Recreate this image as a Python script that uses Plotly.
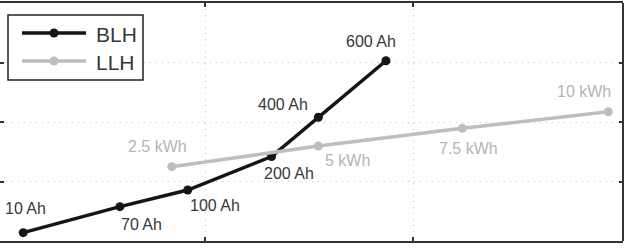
import plotly.graph_objects as go

# ---- data (axis units, no tick labels in original) ----
blh_x = [0.126, 0.591, 0.917, 1.320, 1.545, 1.870]
blh_y = [0.140, 0.577, 0.857, 1.420, 2.079, 3.030]
blh_labels = ["10 Ah", "70 Ah", "100 Ah", "200 Ah", "400 Ah", "600 Ah"]

llh_x = [0.840, 1.545, 2.237, 2.939]
llh_y = [1.249, 1.597, 1.894, 2.173]
llh_labels = ["2.5 kWh", "5 kWh", "7.5 kWh", "10 kWh"]

x_ticks = [1, 2]
y_ticks = [1, 2, 3]

# label offsets in pixels (dx, dy)
blh_offsets = [(2, 24), (22, -18), (27, -15), (17, -17), (-35, 13), (-15, 19)]
llh_offsets = [(-14, 20), (29, -15), (6, -20), (-24, 20)]

BLH_COLOR = "#151515"
LLH_COLOR = "#bebebe"
BLH_TEXT = "#383838"
LLH_TEXT = "#b5b5b5"
AXIS_COLOR = "#333333"
FONT = "Liberation Sans, Arial, sans-serif"

W, H = 630, 248
ML, MR, MT, MB = 0, 7, 3, 7
PW = W - ML - MR
PH = H - MT - MB

fig = go.Figure()
fig.add_trace(go.Scatter(x=blh_x, y=blh_y, mode="lines+markers", name="BLH",
                         line=dict(color=BLH_COLOR, width=3.5),
                         marker=dict(color=BLH_COLOR, size=9), hoverinfo="skip"))
fig.add_trace(go.Scatter(x=llh_x, y=llh_y, mode="lines+markers", name="LLH",
                         line=dict(color=LLH_COLOR, width=3.5),
                         marker=dict(color=LLH_COLOR, size=9), hoverinfo="skip"))

annotations = []
for x, y, t, (dx, dy) in zip(blh_x, blh_y, blh_labels, blh_offsets):
    annotations.append(dict(x=x, y=y, text=t, showarrow=False, xshift=dx, yshift=dy,
                            font=dict(family=FONT, size=16, color=BLH_TEXT)))
for x, y, t, (dx, dy) in zip(llh_x, llh_y, llh_labels, llh_offsets):
    annotations.append(dict(x=x, y=y, text=t, showarrow=False, xshift=dx, yshift=dy,
                            font=dict(family=FONT, size=16, color=LLH_TEXT)))

def px(xp):
    return (xp - ML) / PW

def py(yp):
    return (H - MB - yp) / PH

shapes = []
# right border line
shapes.append(dict(type="line", xref="paper", yref="paper", x0=1, x1=1, y0=0, y1=1,
                   line=dict(color=AXIS_COLOR, width=2)))
# manual legend
shapes.append(dict(type="rect", xref="paper", yref="paper",
                   x0=px(8), x1=px(143), y0=py(80), y1=py(15),
                   line=dict(color="#222222", width=1.5), fillcolor="white", layer="above"))
for yy, col, name in [(33, BLH_COLOR, "BLH"), (61, LLH_COLOR, "LLH")]:
    shapes.append(dict(type="line", xref="paper", yref="paper", x0=px(22), x1=px(86),
                       y0=py(yy), y1=py(yy), line=dict(color=col, width=3.5), layer="above"))
    shapes.append(dict(type="circle", xref="paper", yref="paper",
                       x0=px(54 - 4.5), x1=px(54 + 4.5), y0=py(yy + 4.5), y1=py(yy - 4.5),
                       line=dict(color=col, width=0), fillcolor=col, layer="above"))
    annotations.append(dict(xref="paper", yref="paper", x=px(94), y=py(yy + 1), text=name,
                            showarrow=False, xanchor="left", yanchor="middle",
                            font=dict(family=FONT, size=21, color="#383838")))

fig.update_layout(
    width=W, height=H,
    margin=dict(l=ML, r=MR, t=MT, b=MB),
    paper_bgcolor="white", plot_bgcolor="white",
    showlegend=False,
    annotations=annotations, shapes=shapes,
    xaxis=dict(range=[0.0144, 3.0096], tickvals=x_ticks, showticklabels=False,
               ticks="inside", ticklen=4, tickcolor=AXIS_COLOR, tickwidth=1.5,
               showline=True, linecolor=AXIS_COLOR, linewidth=2, mirror="ticks",
               showgrid=True, gridcolor="#c4c4c4", griddash="1px,5px", gridwidth=1,
               zeroline=False, fixedrange=True),
    yaxis=dict(range=[0, 4], tickvals=y_ticks, showticklabels=False,
               ticks="inside", ticklen=4, tickcolor=AXIS_COLOR, tickwidth=1.5,
               showline=False, mirror="ticks",
               showgrid=True, gridcolor="#c4c4c4", griddash="1px,5px", gridwidth=1,
               zeroline=False, fixedrange=True),
)

fig.write_html("out.html")
